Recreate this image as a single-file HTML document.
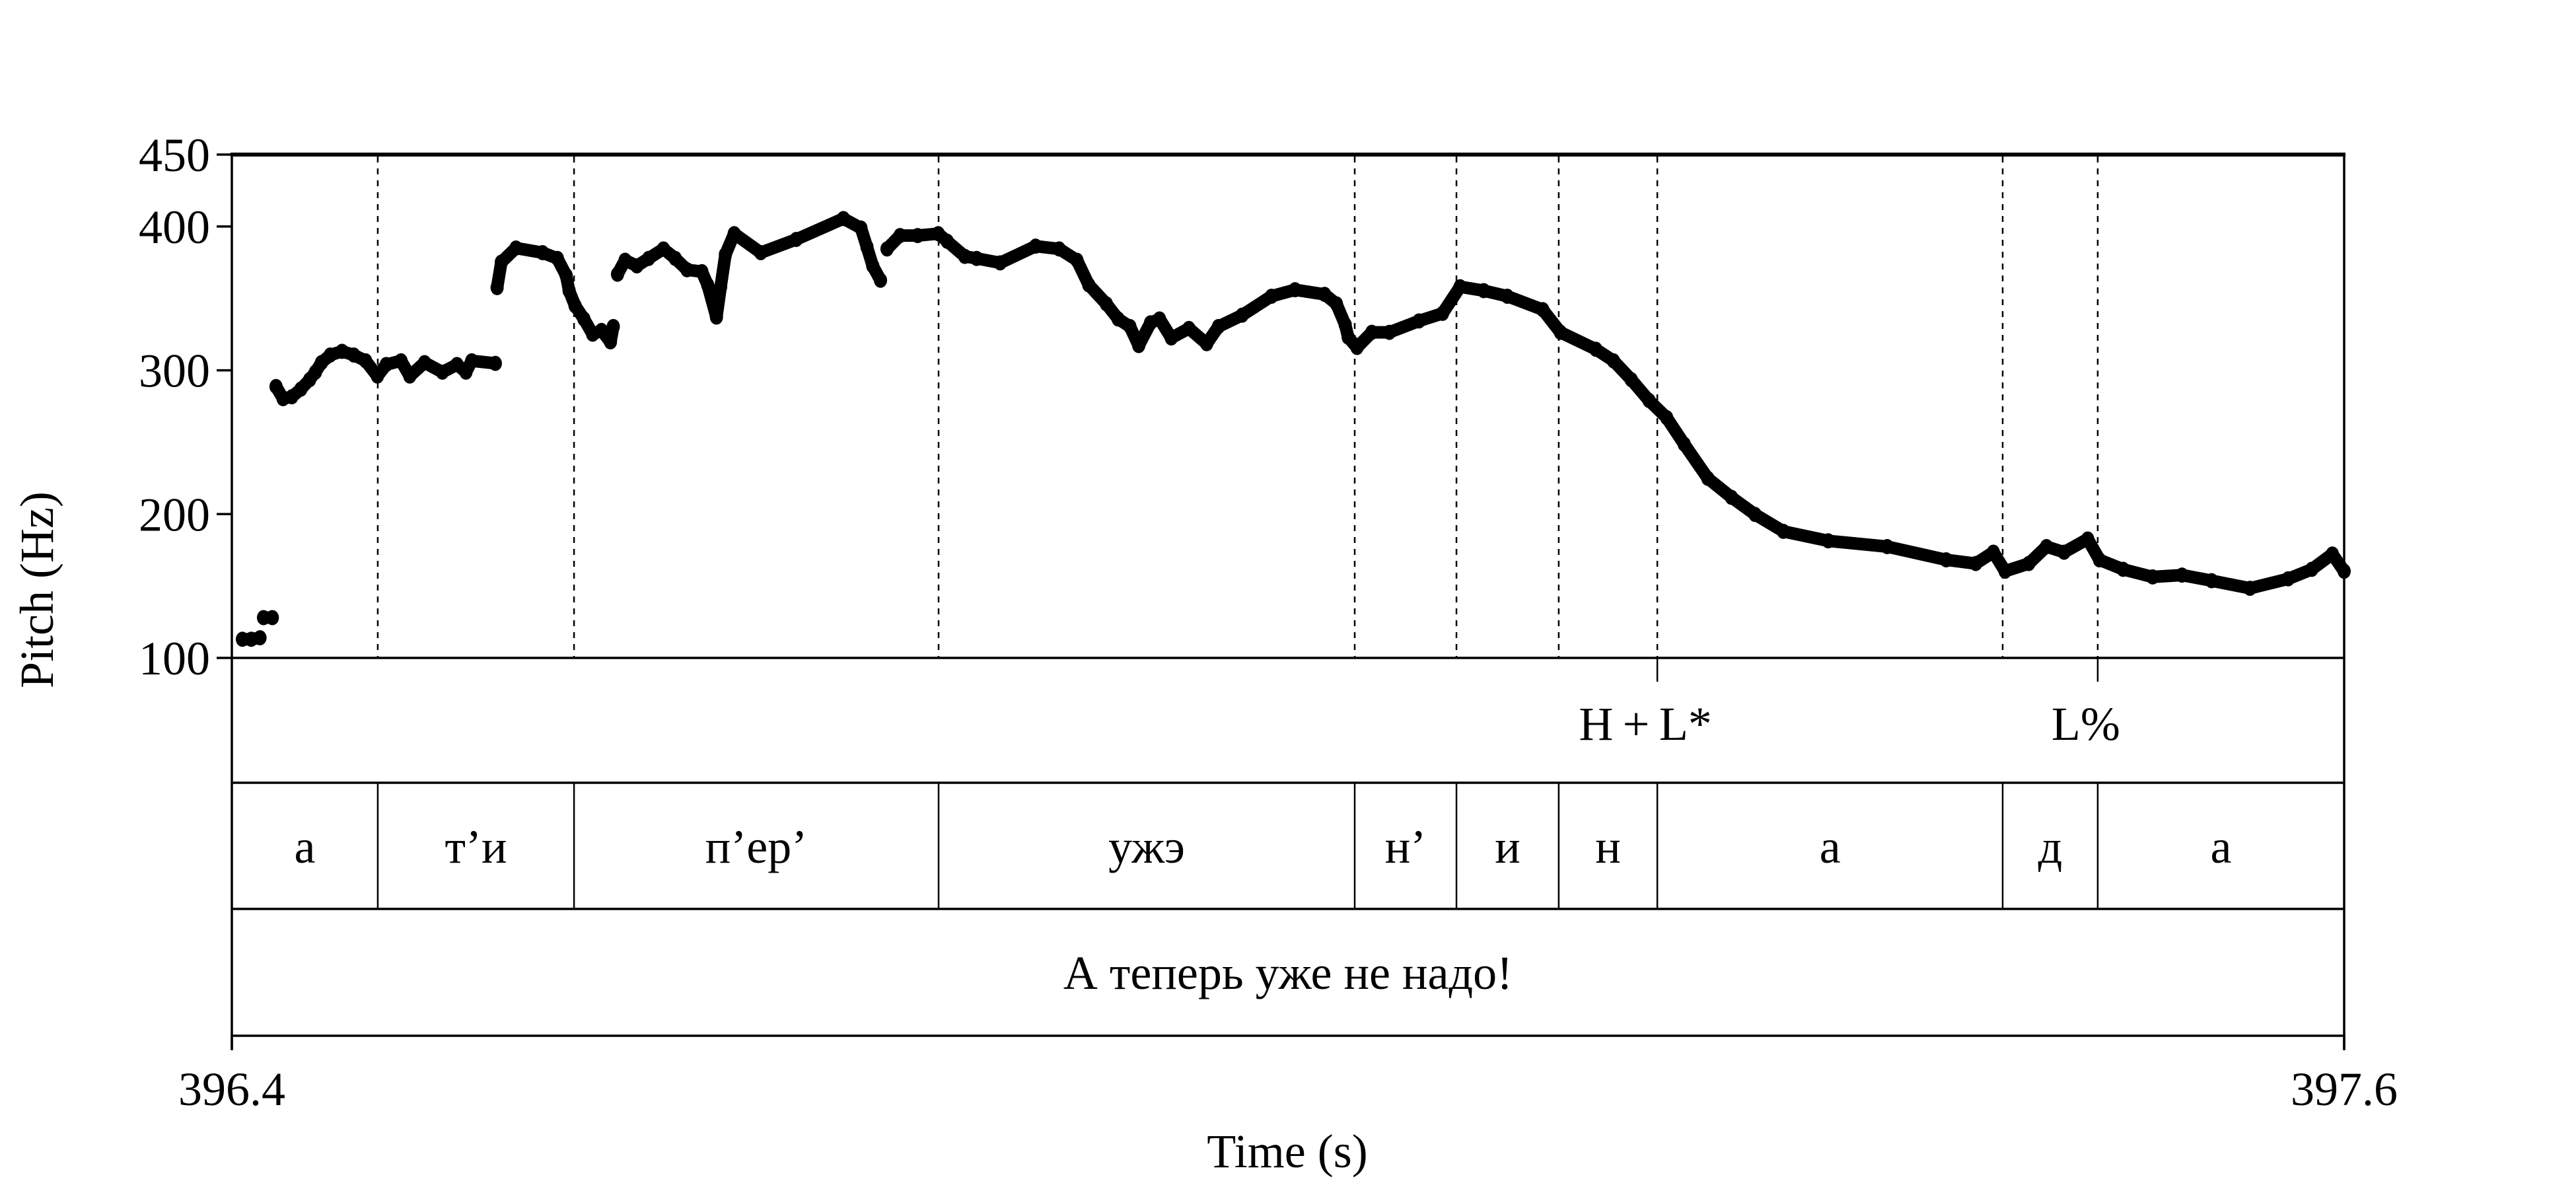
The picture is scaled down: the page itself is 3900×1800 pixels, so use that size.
<!DOCTYPE html>
<html><head><meta charset="utf-8">
<style>
html,body{margin:0;padding:0;background:#fff;}
svg{display:block;font-family:"Liberation Serif","DejaVu Serif",serif;}
</style></head>
<body>
<svg id="chart" xmlns="http://www.w3.org/2000/svg" width="3900" height="1800" viewBox="0 0 3900 1800">
<rect x="0" y="0" width="3900" height="1800" fill="#fff"/>
<g id="frame"></g>
<g id="grid"></g>
<g id="pitch"></g>
<g id="labels"></g>
</svg>
<script>
const yTicks = [100, 200, 300, 400, 450];
const xTickLabels = ["396.4", "397.6"];
const xTickValues = [396.4, 397.6];
const boundaries = [396.4829, 396.5944, 396.8015, 397.0379, 397.0957, 397.1538, 397.2098, 397.406, 397.46];
const segmentLabels = ["а", "т’и", "п’ер’", "ужэ", "н’", "и", "н", "а", "д", "а"];
const toneTimes = [397.2098, 397.46];
const toneLabels = ["H\u2009+\u2009L*", "L%"];
const sentence = "А теперь уже не надо!";
const pitchTimes = [
396.406,396.411,396.416,null,396.418,396.423,null,
396.4251,396.4291,396.4341,396.4392,396.4442,396.4475,396.4509,396.4559,396.4626,396.4693,396.4760,396.4827,396.4877,396.4961,396.5011,396.5095,396.5196,396.5279,396.5330,396.5363,396.5497,null,
396.5507,396.5531,396.5614,396.5765,396.5849,396.5899,396.5916,396.5950,396.6000,396.6050,396.6100,396.6151,396.6167,null,
396.6191,396.6234,396.6301,396.6368,396.6452,396.6519,396.6586,396.6670,396.6703,396.6753,396.6777,396.6804,396.6854,396.7005,396.7206,396.7474,396.7574,396.7608,396.7641,396.7685,null,
396.7722,396.7796,396.7896,396.8013,396.8064,396.8164,396.8231,396.8365,396.8566,396.8700,396.8801,396.8868,396.8968,396.9035,396.9102,396.9152,396.9219,396.9270,396.9337,396.9437,396.9538,396.9605,396.9739,396.9906,397.0040,397.0208,397.0275,397.0325,
397.0342,397.0392,397.0476,397.0576,397.0744,397.0878,397.0978,397.1112,397.1246,397.1447,397.1548,397.1749,397.1849,397.1950,397.2051,397.2151,397.2251,397.2385,397.2519,397.2653,397.2814,
397.3069,397.3404,397.3739,397.3907,397.4007,397.4074,397.4208,397.4309,397.4409,397.4543,397.4610,397.4744,397.4912,397.5079,397.5247,397.5465,397.5682,397.5816,397.5933,397.6000];
const pitchHz = [
113,113,114,null,128,128,null,
288.7,280.3,281.6,286.9,293.5,298.7,305.3,310.6,313.2,310.6,306.6,296,304.0,306.6,296,305.3,298.7,304.0,298.7,306.6,304.8,null,
357.5,375.2,385.0,381.8,377.8,366.0,355.4,344.9,335.7,325.1,327.7,319.8,330.4,null,
366.8,376.5,372.6,377.8,384.4,377.8,369.9,368.6,359.4,337.0,358.1,380.5,395.0,381.8,391.0,405.5,398.9,385.8,372.6,362.6,null,
384.4,393.7,393.7,395.0,389.7,379.2,377.8,374.7,386.3,384.4,376.5,359.4,346.2,335.7,330.4,317.2,333.0,335.7,322.5,329.1,318.5,330.4,338.3,351.5,356.0,352.8,346.2,331.7,
323.0,315.9,326.4,326.4,334.3,339.6,358.1,355.4,351.5,342.2,326.4,314.6,306.6,293.5,279.0,267.1,248.6,224.9,211.7,199.8,188.0,
181.4,177.4,168.2,165.6,173.5,160.3,165.6,177.4,173.5,182.7,168.2,161.6,156.3,157.6,153.7,148.4,155.0,161.6,172.2,160.3];

const X0 = 351, X1 = 3549, T0 = 396.4, T1 = 397.6;
const YTOP = 234, YBOT = 996, F0 = 100, F1 = 450;
const tierY = [996, 1185, 1376, 1568];
function xs(t){ return X0 + (t - T0) / (T1 - T0) * (X1 - X0); }
function ys(f){ return YBOT - (f - F0) / (F1 - F0) * (YBOT - YTOP); }
const NS = "http://www.w3.org/2000/svg";
function mk(tag, attrs, parent){ const e = document.createElementNS(NS, tag); for (const k in attrs) e.setAttribute(k, attrs[k]); parent.appendChild(e); return e; }

const frame = document.getElementById('frame');
const grid = document.getElementById('grid');
const pitch = document.getElementById('pitch');
const labels = document.getElementById('labels');

let l = mk('line', {x1:X0-2, y1:YTOP, x2:X1+2, y2:YTOP, stroke:'#000','stroke-width':6}, frame);


l = mk('line', {x1:X0, y1:YTOP, x2:X0, y2:1588, stroke:'#000','stroke-width':3.5}, frame);


l = mk('line', {x1:X1, y1:YTOP, x2:X1, y2:1588, stroke:'#000','stroke-width':3.5}, frame);


tierY.forEach(function(y){
  const h = mk('line', {x1:X0, y1:y, x2:X1, y2:y, stroke:'#000','stroke-width':3.5}, frame);
  
  
});

yTicks.forEach(function(v){
  const y = ys(v);
  const tk = mk('line', {x1:328, y1:y, x2:X0, y2:y, stroke:'#000','stroke-width':3.5}, frame);
  
  
  const tx = mk('text', {x:318, y:y+25, 'text-anchor':'end','font-size':72}, labels);
  tx.textContent = String(v);
  
  
});
xTickValues.forEach(function(v, i){
  const x = xs(v);
  const tk = mk('line', {x1:x, y1:1568, x2:x, y2:1590, stroke:'#000','stroke-width':3.5}, frame);
  
  
  const tx = mk('text', {x:x, y:1673, 'text-anchor':'middle','font-size':72}, labels);
  tx.textContent = xTickLabels[i];
  
  
});
let t = mk('text', {x:1949, y:1767, 'text-anchor':'middle','font-size':72}, labels);
t.textContent = 'Time (s)';


t = mk('text', {x:0, y:0, 'text-anchor':'middle','font-size':72, transform:'translate(80,893) rotate(-90)'}, labels);
t.textContent = 'Pitch (Hz)';



boundaries.forEach(function(b){
  const x = xs(b);
  const d = mk('line', {x1:x, y1:YTOP+3, x2:x, y2:YBOT, stroke:'#000','stroke-width':2.5,'stroke-dasharray':'9 9'}, grid);
  
  
  const s = mk('line', {x1:x, y1:tierY[1], x2:x, y2:tierY[2], stroke:'#000','stroke-width':2.5}, grid);
  
  
});
const segEdges = [T0].concat(boundaries).concat([T1]);
segmentLabels.forEach(function(s, i){
  const cx = (xs(segEdges[i]) + xs(segEdges[i+1])) / 2;
  const tx = mk('text', {x:cx, y:1306, 'text-anchor':'middle','font-size':72}, labels);
  tx.textContent = s;
  
  
});
toneTimes.forEach(function(tt, i){
  const x = xs(tt);
  const tk = mk('line', {x1:x, y1:YBOT, x2:x, y2:1032, stroke:'#000','stroke-width':2.5}, grid);
  
  
  const tx = mk('text', {x:x-18, y:1120, 'text-anchor':'middle','font-size':72}, labels);
  tx.textContent = toneLabels[i];
  
  
});
t = mk('text', {x:(X0+X1)/2, y:1497, 'text-anchor':'middle','font-size':72}, labels);
t.textContent = sentence;



let seg = [];
function flush(){
  if (seg.length > 1){
    const p = mk('polyline', {points:seg.map(function(q){return q.join(',');}).join(' '), fill:'none', stroke:'#000','stroke-width':19,'stroke-linejoin':'round','stroke-linecap':'round'}, pitch);
    
    
  }
  seg = [];
}
for (let i = 0; i < pitchTimes.length; i++){
  if (pitchTimes[i] === null || pitchHz[i] === null){ flush(); continue; }
  const x = xs(pitchTimes[i]), y = ys(pitchHz[i]);
  seg.push([x.toFixed(1), y.toFixed(1)]);
  const c = mk('ellipse', {cx:x, cy:y, rx:10, ry:11.5, fill:'#000'}, pitch);
  
  
}
flush();
</script>
</body></html>
